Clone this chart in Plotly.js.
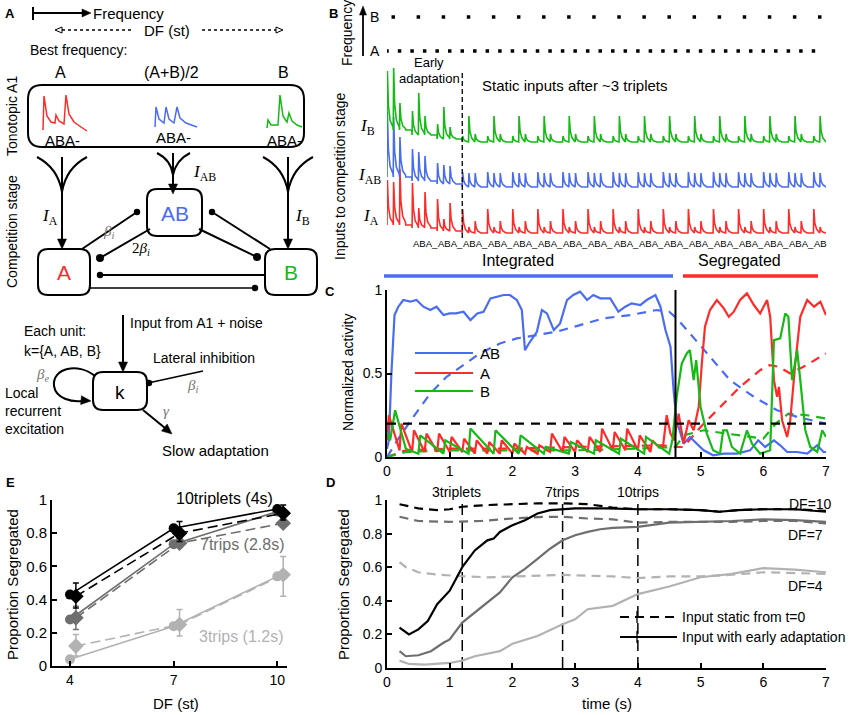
<!DOCTYPE html>
<html><head><meta charset="utf-8">
<script src="https://cdn.plot.ly/plotly-3.0.1.min.js"></script>
<style>html,body{margin:0;padding:0;background:#fff}#chart{width:856px;height:715px}</style>
</head><body><div id="chart"></div>
<script>
// ================= DATA =================
// ---- Panel B: stimulus and inputs ----
const tonePattern = ['A','B','A','_'];
const toneStep = 0.1;          // s per tone slot
const stimDuration = 7.0;      // s
const tripletLabel = 'ABA_';
// peak heights per triplet [A1, B, A2] (arbitrary units)
const peaksIA = [[45,43,56],[45,20,36],[32,12,28],[24,6,12],[24,6,12],[24,6,12],[24,6,12],[24,6,12],[24,6,12],[24,6,12],[24,6,12],[24,6,12],[24,6,12],[24,6,12],[24,6,12],[24,6,12],[24,6,12],[24,6,12]];
const peaksIAB = [[65,60,40],[32,29,25],[21,19,18],[15,14,14],[15,14,14],[15,14,14],[15,14,14],[15,14,14],[15,14,14],[15,14,14],[15,14,14],[15,14,14],[15,14,14],[15,14,14],[15,14,14],[15,14,14],[15,14,14],[15,14,14]];
const peaksIB = [[59,62,27],[24,42,19],[15,32,12],[6,26,8],[6,26,8],[6,26,8],[6,26,8],[6,26,8],[6,26,8],[6,26,8],[6,26,8],[6,26,8],[6,26,8],[6,26,8],[6,26,8],[6,26,8],[6,26,8],[6,26,8]];
const liftIA  = [8,5,2,0,0,0,0,0,0,0,0,0,0,0,0,0,0,0];
const liftIAB = [10,6,3,0,0,0,0,0,0,0,0,0,0,0,0,0,0,0];
const liftIB  = [12,7,3,0,0,0,0,0,0,0,0,0,0,0,0,0,0,0];
const adaptEnd = 1.2; // s, end of early adaptation

// ---- Panel C: normalized activity ----
const tABs = [0,0.03,0.07,0.12,0.18,0.26,0.37,0.47,0.58,0.69,0.79,0.9,1.0,1.1,1.22,1.33,1.44,1.54,1.65,1.75,1.86,1.96,2.07,2.15,2.2,2.28,2.39,2.47,2.55,2.66,2.76,2.87,2.97,3.08,3.19,3.29,3.4,3.56,3.69,3.8,3.9,4.04,4.14,4.28,4.36,4.44,4.52,4.57,4.62,4.65,4.73,4.83,4.94,5.05,5.2,5.37,5.58,5.79,5.92,6.03,6.17,6.27,6.38,6.54,6.7,6.86,6.96,7.0];
const vABs = [0.05,0.1,0.5,0.85,0.9,0.94,0.93,0.94,0.9,0.88,0.9,0.85,0.86,0.86,0.87,0.82,0.86,0.87,0.95,0.96,0.97,0.97,0.94,0.88,0.64,0.69,0.75,0.88,0.86,0.76,0.80,0.94,0.97,0.99,0.94,0.97,0.95,0.95,0.87,0.90,0.92,0.91,0.94,0.97,0.90,0.76,0.66,0.40,0.2,0.18,0.08,0.12,0.08,0.04,0.01,0.02,0.02,0.04,0.10,0.06,0.10,0.07,0.03,0.03,0.02,0.07,0.03,0.03];
const tABd = [0,0.2,0.42,0.69,0.95,1.22,1.48,1.8,2.07,2.39,2.7,3.08,3.45,3.88,4.3,4.5,4.62,4.83,5.15,5.47,5.85,6.22,6.54,6.86,7.0];
const vABd = [0,0.12,0.24,0.38,0.48,0.55,0.62,0.68,0.71,0.73,0.75,0.79,0.83,0.85,0.88,0.87,0.83,0.74,0.60,0.46,0.36,0.28,0.24,0.21,0.20];
const tAs = [0,0.03,0.2,0.23,0.4,0.43,0.6,0.63,0.8,0.83,1.0,1.03,1.2,1.23,1.4,1.43,1.6,1.63,1.8,1.83,2.0,2.03,2.2,2.23,2.4,2.43,2.6,2.63,2.8,2.83,3.0,3.03,3.2,3.23,3.4,3.43,3.6,3.63,3.8,3.83,4.0,4.03,4.2,4.23,4.33,4.4,4.46,4.52,4.58,4.65,4.73,4.81,4.89,4.97,5.02,5.07,5.15,5.26,5.37,5.45,5.53,5.63,5.74,5.85,5.95,6.06,6.11,6.17,6.22,6.25,6.3,6.38,6.43,6.51,6.59,6.7,6.81,6.91,7.0];
const vAs = [0.1,0.25,0.04,0.2,0.03,0.16,0.03,0.14,0.03,0.14,0.03,0.12,0.03,0.11,0.02,0.1,0.02,0.09,0.02,0.1,0.02,0.08,0.02,0.06,0.02,0.07,0.03,0.14,0.03,0.12,0.03,0.1,0.03,0.12,0.03,0.17,0.04,0.15,0.04,0.17,0.04,0.13,0.03,0.1,0.06,0.06,0.25,0.14,0.1,0.26,0.08,0.22,0.16,0.30,0.56,0.78,0.88,0.94,0.89,0.84,0.87,0.94,0.98,0.91,0.86,0.94,0.84,0.46,0.36,0.42,0.22,0.12,0.22,0.56,0.84,0.94,0.90,0.93,0.85];
const tAd = [0,0.3,1,2,3,4,4.4,4.6,4.73,5.0,5.31,5.63,5.95,6.1,6.25,6.43,6.64,6.96,7.0];
const vAd = [0,0.04,0.05,0.05,0.06,0.07,0.07,0.06,0.06,0.18,0.30,0.42,0.52,0.55,0.54,0.50,0.54,0.61,0.62];
const tBs = [0,0.05,0.13,0.3,0.5,0.53,0.9,0.93,1.3,1.33,1.7,1.73,2.1,2.13,2.5,2.53,2.9,2.93,3.3,3.33,3.7,3.73,4.1,4.13,4.5,4.55,4.62,4.7,4.78,4.83,4.89,4.93,5.0,5.1,5.2,5.31,5.36,5.42,5.5,5.63,5.74,5.82,5.95,6.11,6.17,6.27,6.35,6.4,6.46,6.54,6.59,6.67,6.75,6.86,6.94,7.0];
const vBs = [0.15,0.1,0.28,0.05,0.02,0.13,0.02,0.1,0.02,0.17,0.02,0.16,0.02,0.13,0.02,0.06,0.02,0.09,0.02,0.1,0.02,0.11,0.02,0.12,0.02,0.1,0.36,0.56,0.62,0.64,0.46,0.58,0.30,0.14,0.04,0.02,0.16,0.16,0.06,0.02,0.16,0.08,0.02,0.04,0.70,0.71,0.86,0.84,0.46,0.64,0.46,0.16,0.06,0.03,0.16,0.12];
const tBd = [0,0.3,1,2,3,4,4.6,4.73,5.05,5.42,5.79,6.0,6.2,6.4,6.7,7.0];
const vBd = [0,0.03,0.04,0.04,0.04,0.05,0.06,0.13,0.16,0.14,0.12,0.11,0.2,0.26,0.25,0.23];
const threshold = 0.2;
const switchTime = 4.6;
const legendC = ['AB','A','B'];

// ---- Panel D: proportion segregated vs time ----
const tD10s = [0.2,0.35,0.5,0.65,0.8,1.0,1.2,1.4,1.6,1.7,1.8,2.0,2.2,2.4,2.6,2.8,3.0,3.5,4.0,4.5,5.0,5.3,5.6,6.0,6.5,7.0];
const vD10s = [0.24,0.20,0.23,0.28,0.38,0.46,0.60,0.70,0.76,0.77,0.81,0.85,0.88,0.92,0.94,0.945,0.95,0.95,0.945,0.945,0.94,0.93,0.94,0.945,0.945,0.93];
const tD10d = [0.2,0.5,0.8,1.0,1.2,1.6,2.0,2.4,2.8,3.2,3.6,4.0,4.5,5.0,5.3,5.6,6.0,6.5,7.0];
const vD10d = [0.975,0.95,0.94,0.945,0.96,0.97,0.975,0.98,0.98,0.975,0.955,0.945,0.945,0.94,0.93,0.94,0.945,0.945,0.935];
const tD7d = [0.2,0.5,1.0,1.5,2.0,2.5,2.8,3.2,3.6,4.0,4.5,5.0,5.5,6.0,6.5,7.0];
const vD7d = [0.90,0.875,0.87,0.875,0.89,0.90,0.90,0.89,0.885,0.865,0.87,0.87,0.87,0.875,0.875,0.86];
const tD7s = [0.2,0.3,0.5,0.7,0.9,1.0,1.2,1.4,1.6,1.8,2.0,2.2,2.4,2.6,2.8,3.0,3.2,3.4,3.6,4.0,4.5,5.0,5.5,6.0,6.5,7.0];
const vD7s = [0.10,0.07,0.076,0.10,0.15,0.17,0.27,0.33,0.39,0.45,0.54,0.59,0.65,0.71,0.76,0.79,0.81,0.826,0.834,0.84,0.865,0.87,0.875,0.885,0.88,0.87];
const tD4d = [0.2,0.3,0.5,0.8,1.2,1.6,2.0,2.4,2.8,3.2,3.6,4.0,4.5,5.0,5.5,6.0,6.5,7.0];
const vD4d = [0.63,0.60,0.57,0.556,0.546,0.54,0.544,0.55,0.554,0.55,0.545,0.535,0.545,0.545,0.555,0.57,0.565,0.56];
const tD4s = [0.2,0.35,0.6,1.0,1.2,1.4,1.8,2.0,2.4,2.8,3.0,3.2,3.6,4.0,4.5,5.0,5.5,6.0,6.5,7.0];
const vD4s = [0.044,0.024,0.02,0.03,0.044,0.07,0.10,0.144,0.19,0.26,0.29,0.35,0.37,0.44,0.485,0.54,0.56,0.594,0.585,0.57];
const markTimes = [1.2, 2.8, 4.0];
const markLabels = ['3triplets','7trips','10trips'];
const dfLabels = ['DF=10','DF=7','DF=4'];
const legendD = ['Input static from t=0','Input with early adaptation'];

// ---- Panel E: proportion segregated vs DF ----
const dfVals = [4,7,10];
const E10s = [0.43,0.83,0.946], E10d = [0.42,0.80,0.92], E10up = [0.08,0.07,0.05], E10dn = [0.07,0.05,0.04];
const E7s  = [0.28,0.734,0.93], E7d  = [0.29,0.74,0.86], E7up  = [0.07,0.03,0.03], E7dn  = [0.07,0.02,0.02];
const E3s  = [0.04,0.24,0.54],  E3d  = [0.12,0.25,0.55], E3up  = [0.07,0.09,0.11], E3dn  = [0.06,0.07,0.13];
const eLabels = ['10triplets (4s)','7trips (2.8s)','3trips (1.2s)'];

// ================= STYLE =================
const F = 'Liberation Sans, Arial, Helvetica, sans-serif';
const SERIF = 'Liberation Serif, DejaVu Serif, serif';
const BLUE = '#4a6cf0', RED = '#ff2b2b', GREEN = '#16b916';
const K = '#000000', G7 = '#6e6e6e', G4 = '#b2b2b2';

const traces = [];
const shapes = [];
const ann = [];

// helpers (pixel overlay on x/y)
function L(x0,y0,x1,y1,w,c,dash){shapes.push({type:'line',xref:'x',yref:'y',x0,y0,x1,y1,line:{color:c||K,width:w||2,dash:dash||'solid'}});}
function P(d,w,c,fill){shapes.push({type:'path',xref:'x',yref:'y',path:d,line:{color:c||K,width:w===undefined?2:w},fillcolor:fill||'rgba(0,0,0,0)'});}
function dot(x,y,r){shapes.push({type:'circle',xref:'x',yref:'y',x0:x-r,x1:x+r,y0:y-r,y1:y+r,fillcolor:K,line:{color:K,width:0}});}
function head(x,y,ang,len,wid,open){
  const a=ang*Math.PI/180, dx=Math.cos(a), dy=Math.sin(a);
  const bx=x-len*dx, by=y-len*dy, px=-dy*wid/2, py=dx*wid/2;
  P(`M ${x} ${y} L ${bx+px} ${by+py} L ${bx-px} ${by-py} Z`, open?1:0.5, K, open?'#ffffff':K);
}
function rrect(x0,y0,x1,y1,r,w){
  P(`M ${x0+r} ${y0} L ${x1-r} ${y0} Q ${x1} ${y0} ${x1} ${y0+r} L ${x1} ${y1-r} Q ${x1} ${y1} ${x1-r} ${y1} L ${x0+r} ${y1} Q ${x0} ${y1} ${x0} ${y1-r} L ${x0} ${y0+r} Q ${x0} ${y0} ${x0+r} ${y0} Z`, w||2);
}
function T(x,y,text,size,o){ann.push(Object.assign({xref:'x',yref:'y',x,y,text,showarrow:false,font:{family:F,size:size||13,color:K},xanchor:'center',yanchor:'middle'},o||{}));}

// invisible trace to instantiate overlay axes
traces.push({x:[0],y:[0],xaxis:'x',yaxis:'y',mode:'markers',marker:{opacity:0},hoverinfo:'skip',showlegend:false});

// ================= PANEL A (schematic) =================
T(10,13,'<b>A</b>',13);
L(33,7,33,20,2); L(33,13,83,13,2); head(91,13,0,9,8);
T(91,13,'Frequency',15,{xanchor:'left'});
L(62,30,132,30,1.3,K,'dot'); L(202,30,276,30,1.3,K,'dot');
head(55,30,180,7,6,true); head(283,30,0,7,6,true);
T(167,30,'DF (st)',15);
T(28,50,'Best frequency:',14,{xanchor:'left'});
T(60,72,'A',16); T(171,72,'(A+B)/2',16); T(283,72,'B',16);
rrect(28,85,304,147,14,2);
P('M 43 130 L 44 96 L 47 116 L 51 122 L 55 123 L 56 115 L 59 121 L 64 124 L 66 95 L 69 114 L 74 122 L 81 127 L 87 131',1.5,RED);
P('M 155 127 L 156 107 L 159 119 L 164 123 L 166 107 L 169 119 L 174 123 L 177 107 L 180 118 L 186 123 L 197 127',1.5,BLUE);
P('M 267 128 L 268 120 L 271 125 L 278 125 L 280 95 L 283 116 L 287 122 L 289 113 L 292 121 L 297 125 L 302 127',1.5,GREEN);
T(62,140,'ABA-',15); T(173,137,'ABA-',15); T(284,140,'ABA-',15);
T(12,116,'Tonotopic A1',14,{textangle:-90});
T(12,232,'Competition stage',14,{textangle:-90});
// converging arrows
P('M 37 157 Q 58 168 62 192',2); P('M 87 157 Q 66 168 62 192',2); L(62,157,62,240,2); head(62,249,90,10,9);
P('M 157 153 Q 171 160 173 175',2); P('M 190 153 Q 176 160 173 175',2); L(173,153,173,186,2); head(173,194,90,10,9);
P('M 263 157 Q 284 168 288 192',2); P('M 313 157 Q 292 168 288 192',2); L(288,157,288,240,2); head(288,249,90,10,9);
T(50,217,'<i>I</i><sub>A</sub>',17,{font:{family:SERIF,size:17,color:K}});
T(204,173,'<i>I</i><sub>AB</sub>',17,{font:{family:SERIF,size:17,color:K}});
T(302,217,'<i>I</i><sub>B</sub>',17,{font:{family:SERIF,size:17,color:K}});
// units
rrect(147,189,202,236,10,2); rrect(38,249,90,295,10,2); rrect(265,249,317,295,10,2);
T(175,213,'AB',21,{font:{family:F,size:21,color:BLUE}});
T(64,272,'A',21,{font:{family:F,size:21,color:RED}});
T(291,272,'B',21,{font:{family:F,size:21,color:GREEN}});
// inhibitory connections
L(82,249,137,212,2); dot(137,212,3.2);
L(150,229,100,258,2); dot(100,258,4);
L(270,249,212,212,2); dot(212,212,3.2);
L(199,229,257,257,2); dot(257,257,4);
L(265,275,100,275,2); dot(100,275,3.2);
L(90,288,255,288,1.5); dot(255,288,3.2);
T(108,232,'<i>β<sub>i</sub></i>',15,{font:{family:SERIF,size:15,color:'#777'}});
T(141,249,'2<i>β<sub>i</sub></i>',15,{font:{family:SERIF,size:15,color:K}});
// lower unit diagram
L(123,315,123,363,2); head(123,372,90,10,9);
T(128,323,'Input from A1 + noise',14,{xanchor:'left'});
T(22,331,'Each unit:',14,{xanchor:'left'});
T(22,351,'k={A, AB, B}',14,{xanchor:'left'});
rrect(93,372,147,410,10,2);
T(120,392,'k',19);
L(148,383,203,371,1.5); dot(149,383,3.2);
T(151,358,'Lateral inhibition',14,{xanchor:'left'});
T(192,386,'<i>β<sub>i</sub></i>',15,{font:{family:SERIF,size:15,color:'#777'}});
P('M 95 376 C 78 362 52 368 54 386 C 56 399 72 402 82 401',2); head(91,401,5,10,9);
T(42,375,'<i>β<sub>e</sub></i>',15,{font:{family:SERIF,size:15,color:'#777'}});
T(3,393,'Local',14,{xanchor:'left'}); T(3,411,'recurrent',14,{xanchor:'left'}); T(3,429,'excitation',14,{xanchor:'left'});
L(143,410,165,428,2); head(172,434,40,10,9);
T(166,411,'<i>γ</i>',15,{font:{family:SERIF,size:15,color:'#777'}});
T(160,450,'Slow adaptation',15,{xanchor:'left'});

// ================= PANEL B =================
T(333,13,'<b>B</b>',13);
T(347,33,'Frequency',14,{textangle:-90});
T(340,176,'Inputs to competition stage',14,{textangle:-90});
L(363,56,363,14,1.8); head(363,6,-90,9,7);
T(368,17,'B',14,{xanchor:'left'}); T(368,51,'A',14,{xanchor:'left'});
// tone dots from the stimulus pattern
const toneTimesA=[], toneTimesB=[];
for(let j=0;j*toneStep<stimDuration-1e-9;j++){const p=tonePattern[j%4]; if(p==='A')toneTimesA.push(j*toneStep); else if(p==='B')toneTimesB.push(j*toneStep);}
const yRowA = 245-51, yRowB = 245-17;
traces.push({x:toneTimesA,y:toneTimesA.map(()=>yRowA),xaxis:'x2',yaxis:'y2',mode:'markers',marker:{symbol:'square',size:3.5,color:K},hoverinfo:'skip',showlegend:false});
traces.push({x:toneTimesB,y:toneTimesB.map(()=>yRowB),xaxis:'x2',yaxis:'y2',mode:'markers',marker:{symbol:'square',size:3.5,color:K},hoverinfo:'skip',showlegend:false});
// input traces
function buildInput(peaks,lift,base){
  const xs=[],ys=[];
  const n=Math.round(stimDuration/toneStep);
  for(let j=0;j<n;j++){
    const tri=Math.floor(j/4), slot=j%4, t=j*toneStep, b=base+lift[tri];
    if(slot===3){xs.push(t,t+0.095);ys.push(b,b);continue;}
    const h=peaks[tri][slot];
    xs.push(t,t+0.006,t+0.022,t+0.05,t+0.095);
    ys.push(b,b+h,b+0.42*h,b+0.16*h,b+0.05*h);
  }
  xs.push(stimDuration); ys.push(base+lift[lift.length-1]);
  return {xs,ys};
}
[[peaksIA,liftIA,12,RED],[peaksIAB,liftIAB,58,BLUE],[peaksIB,liftIB,103,GREEN]].forEach(([pk,lf,b,c])=>{
  const r=buildInput(pk,lf,b);
  traces.push({x:r.xs,y:r.ys,xaxis:'x2',yaxis:'y2',mode:'lines',line:{color:c,width:1.6},hoverinfo:'skip',showlegend:false});
});
traces.push({x:[adaptEnd,adaptEnd],y:[245-238,245-70],xaxis:'x2',yaxis:'y2',mode:'lines',line:{color:K,width:1.3,dash:'5px,3px'},hoverinfo:'skip',showlegend:false});
T(367,127,'<i>I</i><sub>B</sub>',17,{font:{family:SERIF,size:17,color:K}});
T(369,176,'<i>I</i><sub>AB</sub>',17,{font:{family:SERIF,size:17,color:K}});
T(371,217,'<i>I</i><sub>A</sub>',17,{font:{family:SERIF,size:17,color:K}});
T(429,62,'Early',13); T(429,78,'adaptation',13);
T(480,85,'Static inputs after ~3 triplets',15,{xanchor:'left'});
// ABA_ labels under traces
for(let k=0;k*4*toneStep<stimDuration-1e-9;k++){
  const t0=k*4*toneStep; const remain=Math.round((stimDuration-t0)/toneStep);
  ann.push({xref:'x2',yref:'y2',x:t0-0.02,y:2,text:tripletLabel.slice(0,Math.min(4,remain)),showarrow:false,xanchor:'left',yanchor:'middle',font:{family:F,size:9.5,color:K}});
}
T(518,260,'Integrated',16); T(739,260,'Segregated',16);
L(384,276,673,276,3.5,BLUE); L(683,276,818,276,3.5,RED);

// ================= PANEL C =================
T(330,291,'<b>C</b>',13);
T(348,373,'Normalized activity',14,{textangle:-90});
const dashC='9px,7px';
traces.push({x:tAd,y:vAd,xaxis:'x3',yaxis:'y3',mode:'lines',line:{color:RED,width:2.2,dash:dashC},hoverinfo:'skip',showlegend:false});
traces.push({x:tBd,y:vBd,xaxis:'x3',yaxis:'y3',mode:'lines',line:{color:GREEN,width:2.2,dash:dashC},hoverinfo:'skip',showlegend:false});
traces.push({x:tABd,y:vABd,xaxis:'x3',yaxis:'y3',mode:'lines',line:{color:BLUE,width:2.2,dash:dashC},hoverinfo:'skip',showlegend:false});
traces.push({x:tABs,y:vABs,xaxis:'x3',yaxis:'y3',mode:'lines',line:{color:BLUE,width:2.2},hoverinfo:'skip',showlegend:false});
traces.push({x:tAs,y:vAs,xaxis:'x3',yaxis:'y3',mode:'lines',line:{color:RED,width:2.2},hoverinfo:'skip',showlegend:false});
traces.push({x:tBs,y:vBs,xaxis:'x3',yaxis:'y3',mode:'lines',line:{color:GREEN,width:2.2},hoverinfo:'skip',showlegend:false});
traces.push({x:[0,7],y:[threshold,threshold],xaxis:'x3',yaxis:'y3',mode:'lines',line:{color:K,width:2.2,dash:dashC},hoverinfo:'skip',showlegend:false});
traces.push({x:[switchTime,switchTime],y:[0,1],xaxis:'x3',yaxis:'y3',mode:'lines',line:{color:K,width:2},hoverinfo:'skip',showlegend:false});
[[353,BLUE],[373,RED],[391,GREEN]].forEach(([y,c],i)=>{L(415,y,473,y,2.2,c); T(478,y,legendC[i],15,{xanchor:'left'});});

// ================= PANEL D =================
T(330,482,'<b>D</b>',13);
T(343,585,'Proportion Segregated',15,{textangle:-90});
T(607,703,'time (s)',15);
const dashD='9px,6px';
markTimes.forEach(t=>traces.push({x:[t,t],y:[0,1.0],xaxis:'x4',yaxis:'y4',mode:'lines',line:{color:K,width:1.5,dash:'11px,6px'},hoverinfo:'skip',showlegend:false}));
traces.push({x:tD4d,y:vD4d,xaxis:'x4',yaxis:'y4',mode:'lines',line:{color:G4,width:2.2,dash:dashD},hoverinfo:'skip',showlegend:false});
traces.push({x:tD4s,y:vD4s,xaxis:'x4',yaxis:'y4',mode:'lines',line:{color:G4,width:2.2},hoverinfo:'skip',showlegend:false});
traces.push({x:tD7d,y:vD7d,xaxis:'x4',yaxis:'y4',mode:'lines',line:{color:G7,width:2.2,dash:dashD},hoverinfo:'skip',showlegend:false});
traces.push({x:tD7s,y:vD7s,xaxis:'x4',yaxis:'y4',mode:'lines',line:{color:G7,width:2.2},hoverinfo:'skip',showlegend:false});
traces.push({x:tD10d,y:vD10d,xaxis:'x4',yaxis:'y4',mode:'lines',line:{color:K,width:2.2,dash:dashD},hoverinfo:'skip',showlegend:false});
traces.push({x:tD10s,y:vD10s,xaxis:'x4',yaxis:'y4',mode:'lines',line:{color:K,width:2.2},hoverinfo:'skip',showlegend:false});
const markX=[456,562,638];
markLabels.forEach((s,i)=>T(markX[i],492,s,14));
T(810,504,dfLabels[0],14); T(805,535,dfLabels[1],14); T(805,586,dfLabels[2],14);
L(620,617,677,617,2.2,K,'9px,6px'); L(637,611,637,623,1.3);
L(620,637,677,637,2.2,K); L(637,631,637,643,1.3);
T(680,617,legendD[0],14,{xanchor:'left'}); T(680,637,legendD[1],14,{xanchor:'left'});

// ================= PANEL E =================
T(10,482,'<b>E</b>',13);
T(12,585,'Proportion Segregated',15,{textangle:-90});
T(176,703,'DF (st)',15);
const dOff = dfVals.map(v=>v+0.17);
function eSeries(ys,yd,up,dn,c){
  traces.push({x:dfVals,y:ys,xaxis:'x5',yaxis:'y5',mode:'lines+markers',line:{color:c,width:1.6},marker:{symbol:'circle',size:10,color:c},hoverinfo:'skip',showlegend:false,cliponaxis:false});
  traces.push({x:dOff,y:yd,xaxis:'x5',yaxis:'y5',mode:'lines+markers',line:{color:c,width:1.6,dash:'10px,5px'},marker:{symbol:'diamond',size:12,color:c},
    error_y:{type:'data',symmetric:false,array:up,arrayminus:dn,color:c,thickness:1.5,width:3},hoverinfo:'skip',showlegend:false,cliponaxis:false});
}
eSeries(E3s,E3d,E3up,E3dn,G4);
eSeries(E7s,E7d,E7up,E7dn,G7);
eSeries(E10s,E10d,E10up,E10dn,K);
T(224,498,eLabels[0],16,{font:{family:F,size:16,color:K}});
T(242,544,eLabels[1],16,{font:{family:F,size:16,color:G7}});
T(241,636,eLabels[2],16,{font:{family:F,size:16,color:G4}});

// ================= LAYOUT =================
const axBase = {showgrid:false,zeroline:false,showline:true,linecolor:K,linewidth:2,ticks:'inside',ticklen:5,tickwidth:2,tickcolor:K,tickfont:{family:F,size:14,color:K},fixedrange:true};
const xDom=[387/856, 826/856];
const layout = {
  width:856,height:715,margin:{l:0,r:0,t:0,b:0},paper_bgcolor:'#fff',plot_bgcolor:'rgba(0,0,0,0)',showlegend:false,
  xaxis:{domain:[0,1],range:[0,856],visible:false,fixedrange:true},
  yaxis:{domain:[0,1],range:[715,0],visible:false,fixedrange:true},
  xaxis2:{domain:xDom,range:[0,7],visible:false,anchor:'y2'},
  yaxis2:{domain:[1-245/715,1-5/715],range:[0,240],visible:false,anchor:'x2'},
  xaxis3:Object.assign({},axBase,{domain:xDom,range:[0,7],anchor:'y3',tickvals:[0,1,2,3,4,5,6,7]}),
  yaxis3:Object.assign({},axBase,{domain:[1-457/715,1-290/715],range:[0,1],anchor:'x3',tickvals:[0,0.5,1],ticktext:['0','0.5','1']}),
  xaxis4:Object.assign({},axBase,{domain:xDom,range:[0,7],anchor:'y4',tickvals:[0,1,2,3,4,5,6,7]}),
  yaxis4:Object.assign({},axBase,{domain:[1-668/715,1-500/715],range:[0,1],anchor:'x4',tickvals:[0,0.2,0.4,0.6,0.8,1],ticktext:['0','0.2','0.4','0.6','0.8','1']}),
  xaxis5:Object.assign({},axBase,{domain:[52/856,287/856],range:[3.479,10.28],anchor:'y5',tickvals:[4,7,10]}),
  yaxis5:Object.assign({},axBase,{domain:[1-666/715,1-500/715],range:[0,1],anchor:'x5',tickvals:[0,0.2,0.4,0.6,0.8,1],ticktext:['0','0.2','0.4','0.6','0.8','1'],tickfont:{family:F,size:15,color:K}}),
  shapes, annotations:ann
};
Plotly.newPlot('chart',traces,layout,{staticPlot:true,displayModeBar:false});
</script></body></html>
